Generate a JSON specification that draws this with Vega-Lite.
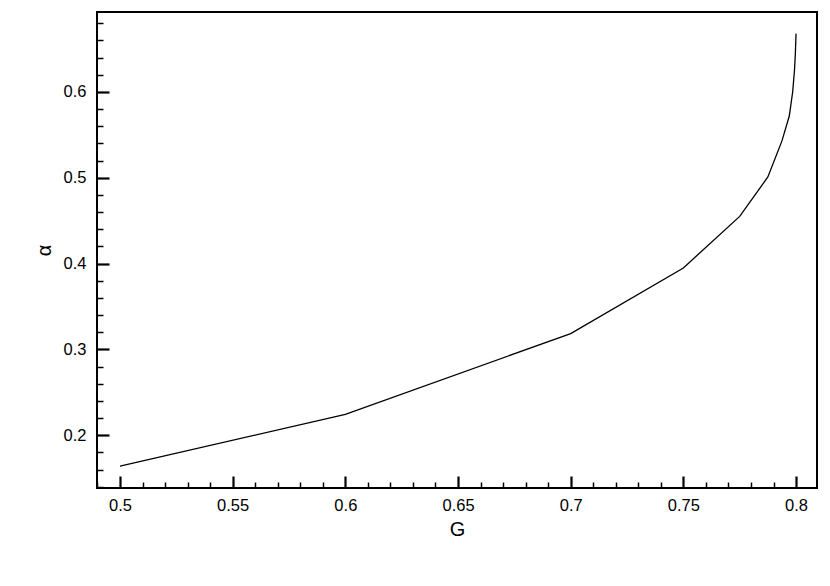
{
  "$schema": "https://vega.github.io/schema/vega-lite/v6.json",
  "autosize": {"type": "none"},
  "padding": {"left": 97, "top": 12, "right": 13, "bottom": 98},
  "width": 720,
  "height": 476,
  "background": "white",
  "config": {
    "view": {"stroke": "black", "strokeWidth": 2},
    "font": "Liberation Sans",
    "axis": {"grid": false, "domain": false, "labelFont": "Liberation Sans", "titleFont": "Liberation Sans", "labelColor": "black", "titleColor": "black", "tickColor": "black", "labelFontSize": 16.5, "titleFontSize": 20, "titleFontWeight": "normal"}
  },
  "data": {"values": [
    {"G": 0.5, "alpha": 0.164},
    {"G": 0.6, "alpha": 0.2245},
    {"G": 0.7, "alpha": 0.3185},
    {"G": 0.75, "alpha": 0.395},
    {"G": 0.775, "alpha": 0.455},
    {"G": 0.7875, "alpha": 0.501},
    {"G": 0.79375, "alpha": 0.543},
    {"G": 0.797, "alpha": 0.572},
    {"G": 0.7985, "alpha": 0.6},
    {"G": 0.7993, "alpha": 0.625},
    {"G": 0.7997, "alpha": 0.645},
    {"G": 0.8, "alpha": 0.668}
  ]},
  "resolve": {"axis": {"x": "independent", "y": "independent"}},
  "layer": [
    {
      "mark": {"type": "line", "color": "black", "strokeWidth": 1.3, "clip": true},
      "encoding": {
        "x": {"field": "G", "type": "quantitative", "scale": {"domain": [0.4898, 0.8093], "nice": false, "zero": false},
          "axis": {"orient": "bottom", "values": [0.5, 0.55, 0.6, 0.65, 0.7, 0.75, 0.8], "format": "~g", "tickSize": -12, "tickWidth": 2.2, "labelPadding": 21, "title": "G", "titlePadding": 6}},
        "y": {"field": "alpha", "type": "quantitative", "scale": {"domain": [0.1386, 0.6932], "nice": false, "zero": false},
          "axis": {"orient": "left", "values": [0.2, 0.3, 0.4, 0.5, 0.6], "format": "~g", "tickSize": -12, "tickWidth": 2.2, "labelPadding": 23, "title": "α", "titlePadding": 9}}
      }
    },
    {
      "mark": {"type": "line", "strokeOpacity": 0},
      "encoding": {
        "x": {"field": "G", "type": "quantitative",
          "axis": {"orient": "bottom", "values": [0.49, 0.51, 0.52, 0.53, 0.54, 0.56, 0.57, 0.58, 0.59, 0.61, 0.62, 0.63, 0.64, 0.66, 0.67, 0.68, 0.69, 0.71, 0.72, 0.73, 0.74, 0.76, 0.77, 0.78, 0.79], "tickSize": -6, "tickWidth": 1.5, "labels": false, "title": null}},
        "y": {"field": "alpha", "type": "quantitative",
          "axis": {"orient": "left", "values": [0.14, 0.16, 0.18, 0.22, 0.24, 0.26, 0.28, 0.32, 0.34, 0.36, 0.38, 0.42, 0.44, 0.46, 0.48, 0.52, 0.54, 0.56, 0.58, 0.62, 0.64, 0.66, 0.68], "tickSize": -6, "tickWidth": 1.5, "labels": false, "title": null}}
      }
    }
  ]
}
